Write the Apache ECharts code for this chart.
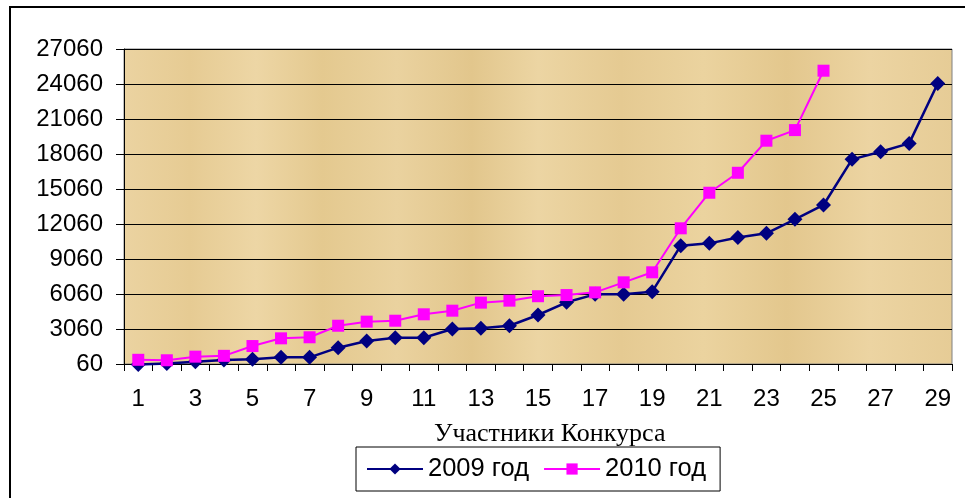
<!DOCTYPE html>
<html>
<head>
<meta charset="utf-8">
<script src="https://cdn.jsdelivr.net/npm/echarts@6/dist/echarts.min.js"></script>
<style>
  html, body { margin: 0; padding: 0; background: #fff; }
  #chart { width: 965px; height: 498px; }
</style>
</head>
<body>
<div id="chart"></div>
<script>
// Participants of the contest, numbered 1..29
const participants = Array.from({ length: 29 }, (_, i) => String(i + 1));

// Scores of the 2009 contest
const scores2009 = [20, 100, 260, 400, 460, 630, 630, 1460, 2030, 2310,
  2310, 3060, 3120, 3340, 4260, 5350, 6030, 6030, 6260, 10200,
  10400, 10900, 11260, 12460, 13690, 17600, 18250, 18970, 24100];

// Scores of the 2010 contest (25 participants)
const scores2010 = [420, 380, 690, 760, 1600, 2260, 2350, 3340, 3690, 3770,
  4320, 4630, 5320, 5490, 5870, 5970, 6200, 7060, 7920, 11690,
  14740, 16450, 19200, 20110, 25200];

// Value axis range and step
const yMin = 60, yMax = 27060, yStep = 3000;

const chart = echarts.init(document.getElementById('chart'));

const paper = new echarts.graphic.LinearGradient(0, 0, 1, 0, [
  { offset: 0.00, color: '#ebd3a1' },
  { offset: 0.08, color: '#e6cb93' },
  { offset: 0.16, color: '#edd6a5' },
  { offset: 0.24, color: '#e4c98f' },
  { offset: 0.33, color: '#ead29f' },
  { offset: 0.42, color: '#e2c68c' },
  { offset: 0.50, color: '#ecd5a3' },
  { offset: 0.60, color: '#e5ca92' },
  { offset: 0.70, color: '#ebd39f' },
  { offset: 0.80, color: '#e3c78d' },
  { offset: 0.90, color: '#ecd4a2' },
  { offset: 1.00, color: '#e6cc96' }
]);

chart.setOption({
  animation: false,
  backgroundColor: '#ffffff',
  textStyle: { fontFamily: 'Liberation Sans, Arial, sans-serif' },
  graphic: [{
    type: 'rect',
    shape: { x: 10, y: 7, width: 980, height: 520 },
    style: { fill: 'none', stroke: '#000', lineWidth: 2 },
    silent: true,
    z: 100
  }],
  title: {
    text: 'Участники Конкурса',
    left: 434,
    top: 421,
    padding: 0,
    textStyle: {
      fontFamily: 'Liberation Serif, Times New Roman, serif',
      fontWeight: 'normal',
      fontSize: 26,
      color: '#000'
    }
  },
  legend: {
    left: 356,
    top: 447,
    padding: [9, 14, 9, 10],
    itemGap: 14,
    itemWidth: 56,
    itemHeight: 14,
    borderColor: '#000',
    borderWidth: 1,
    backgroundColor: '#fff',
    textStyle: { fontSize: 25.5, color: '#000', fontFamily: 'Liberation Sans, Arial, sans-serif' },
    data: ['2009 год', '2010 год']
  },
  grid: {
    left: 124,
    top: 49,
    right: 13,
    bottom: 134,
    show: true,
    backgroundColor: paper,
    borderColor: '#808080',
    borderWidth: 1,
    containLabel: false
  },
  xAxis: {
    type: 'category',
    data: participants,
    boundaryGap: true,
    axisLine: { lineStyle: { color: '#000', width: 1 } },
    axisTick: { show: true, interval: 0, length: 7, lineStyle: { color: '#000' } },
    axisLabel: { interval: 1, fontSize: 24, color: '#000', margin: 23 },
    splitLine: { show: false }
  },
  yAxis: {
    type: 'value',
    min: yMin,
    max: yMax,
    interval: yStep,
    axisLine: { show: true, lineStyle: { color: '#000', width: 1 } },
    axisTick: { show: true, length: 8, lineStyle: { color: '#000' } },
    axisLabel: { fontSize: 24, color: '#000', margin: 21, formatter: v => String(v) },
    splitLine: { show: true, lineStyle: { color: '#000', width: 1 } }
  },
  series: [
    {
      name: '2009 год',
      type: 'line',
      data: scores2009,
      clip: false,
      symbol: 'diamond',
      symbolSize: 15,
      itemStyle: { color: '#000080' },
      lineStyle: { color: '#000080', width: 2.5 },
      z: 3
    },
    {
      name: '2010 год',
      type: 'line',
      data: scores2010,
      clip: false,
      symbol: 'rect',
      symbolSize: 12,
      itemStyle: { color: '#ff00ff' },
      lineStyle: { color: '#ff00ff', width: 2 },
      z: 4
    }
  ]
});
</script>
</body>
</html>
